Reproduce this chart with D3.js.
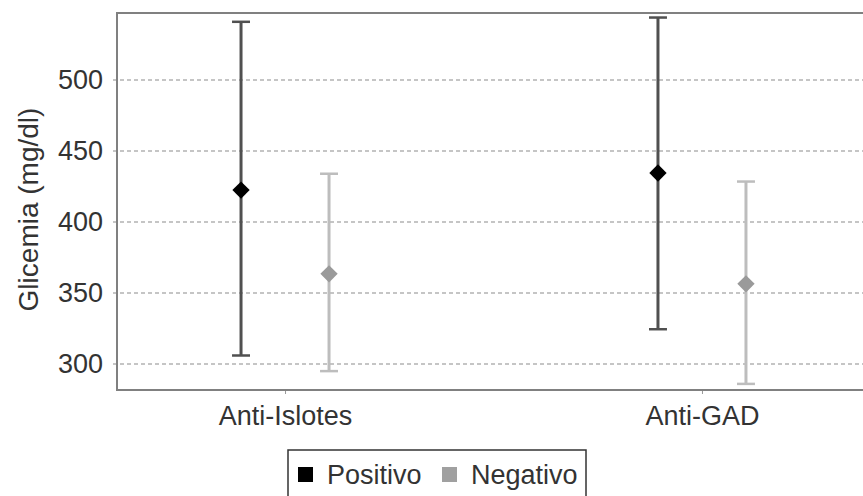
<!DOCTYPE html>
<html>
<head>
<meta charset="utf-8">
<script src="https://cdn.jsdelivr.net/npm/d3@7"></script>
<style>
  html, body { margin: 0; padding: 0; background: #fff; }
  svg { display: block; }
  text { font-family: "Liberation Sans", Arial, sans-serif; fill: #333; }
</style>
</head>
<body>
<svg id="chart" width="863" height="496"></svg>
<script>
// Glucose by antibody status: mean with min–max range
const categories = ["Anti-Islotes", "Anti-GAD"];
const series = ["Positivo", "Negativo"];
const meanPositivo = [422.5, 434.5];
const lowPositivo = [306, 324.5];
const highPositivo = [541, 544];
const meanNegativo = [363.5, 356.5];
const lowNegativo = [295, 286];
const highNegativo = [434, 428.5];
const yTicks = [300, 350, 400, 450, 500];
const yTitle = "Glicemia (mg/dl)";

const rows = [];
categories.forEach((c, i) => {
  rows.push({ cat: c, s: "Positivo", mean: meanPositivo[i], lo: lowPositivo[i], hi: highPositivo[i] });
  rows.push({ cat: c, s: "Negativo", mean: meanNegativo[i], lo: lowNegativo[i], hi: highNegativo[i] });
});

const svg = d3.select("#chart");
const plot = { left: 117, top: 13, right: 870, bottom: 390 };

const y = d3.scaleLinear().domain([281.7, 547.2]).range([plot.bottom, plot.top]);
const x = d3.scalePoint().domain(categories).range([plot.left, plot.right]).padding(0.403);
const xs = d3.scalePoint().domain(series).range([-44, 44]);

const barColor = d3.scaleOrdinal().domain(series).range(["#505050", "#bdbdbd"]);
const markColor = d3.scaleOrdinal().domain(series).range(["#000000", "#9a9a9a"]);

// gridlines
svg.append("g")
  .selectAll("line")
  .data(yTicks)
  .join("line")
  .attr("x1", plot.left - 4).attr("x2", plot.right)
  .attr("y1", d => y(d)).attr("y2", d => y(d))
  .attr("stroke", "#8c8c8c").attr("stroke-width", 1.2)
  .attr("stroke-dasharray", "4,3");

// y axis labels
const yAxis = d3.axisLeft(y).tickValues(yTicks).tickSize(0).tickPadding(14);
const gy = svg.append("g").attr("transform", `translate(${plot.left},0)`).call(yAxis);
gy.select(".domain").remove();
gy.selectAll("text").attr("font-size", 27).style("font-family", '"Liberation Sans", Arial, sans-serif').attr("fill", "#333");

// x axis
const xAxis = d3.axisBottom(x).tickSize(4).tickPadding(12);
const gx = svg.append("g").attr("transform", `translate(0,${plot.bottom})`).call(xAxis);
gx.select(".domain").remove();
gx.selectAll(".tick line").attr("stroke", "#999");
gx.selectAll("text").attr("font-size", 27).style("font-family", '"Liberation Sans", Arial, sans-serif').attr("fill", "#333");

// plot frame
svg.append("rect")
  .attr("x", plot.left).attr("y", plot.top)
  .attr("width", plot.right - plot.left).attr("height", plot.bottom - plot.top)
  .attr("fill", "none").attr("stroke", "#808080").attr("stroke-width", 2);

// y title
svg.append("text")
  .attr("transform", `translate(38,${(plot.top + plot.bottom) / 2 + 8}) rotate(-90)`)
  .attr("text-anchor", "middle")
  .attr("font-size", 28)
  .text(yTitle);

// error bars and means
const g = svg.append("g");
const cx = d => x(d.cat) + xs(d.s);
g.selectAll("line.stem").data(rows).join("line")
  .attr("class", "stem")
  .attr("x1", cx).attr("x2", cx)
  .attr("y1", d => y(d.lo)).attr("y2", d => y(d.hi))
  .attr("stroke", d => barColor(d.s)).attr("stroke-width", 3);
g.selectAll("line.capHi").data(rows).join("line")
  .attr("class", "capHi")
  .attr("x1", d => cx(d) - 9).attr("x2", d => cx(d) + 9)
  .attr("y1", d => y(d.hi)).attr("y2", d => y(d.hi))
  .attr("stroke", d => barColor(d.s)).attr("stroke-width", 2.5);
g.selectAll("line.capLo").data(rows).join("line")
  .attr("class", "capLo")
  .attr("x1", d => cx(d) - 9).attr("x2", d => cx(d) + 9)
  .attr("y1", d => y(d.lo)).attr("y2", d => y(d.lo))
  .attr("stroke", d => barColor(d.s)).attr("stroke-width", 2.5);
g.selectAll("path.mean").data(rows).join("path")
  .attr("class", "mean")
  .attr("d", d3.symbol(d3.symbolSquare, 150))
  .attr("transform", d => `translate(${cx(d)},${y(d.mean)}) rotate(45)`)
  .attr("fill", d => markColor(d.s));

// legend
const leg = svg.append("g");
leg.append("rect").attr("x", 288).attr("y", 450).attr("width", 298).attr("height", 60)
  .attr("fill", "#fff").attr("stroke", "#333").attr("stroke-width", 1.5);
const legendColor = d3.scaleOrdinal().domain(series).range(["#000000", "#a0a0a0"]);
const legX = d3.scaleOrdinal().domain(series).range([298, 442]);
series.forEach(s => {
  leg.append("rect").attr("x", legX(s)).attr("y", 467).attr("width", 15).attr("height", 15)
    .attr("fill", legendColor(s));
  leg.append("text").attr("x", legX(s) + 29).attr("y", 484).attr("font-size", 27).text(s);
});
</script>
</body>
</html>
